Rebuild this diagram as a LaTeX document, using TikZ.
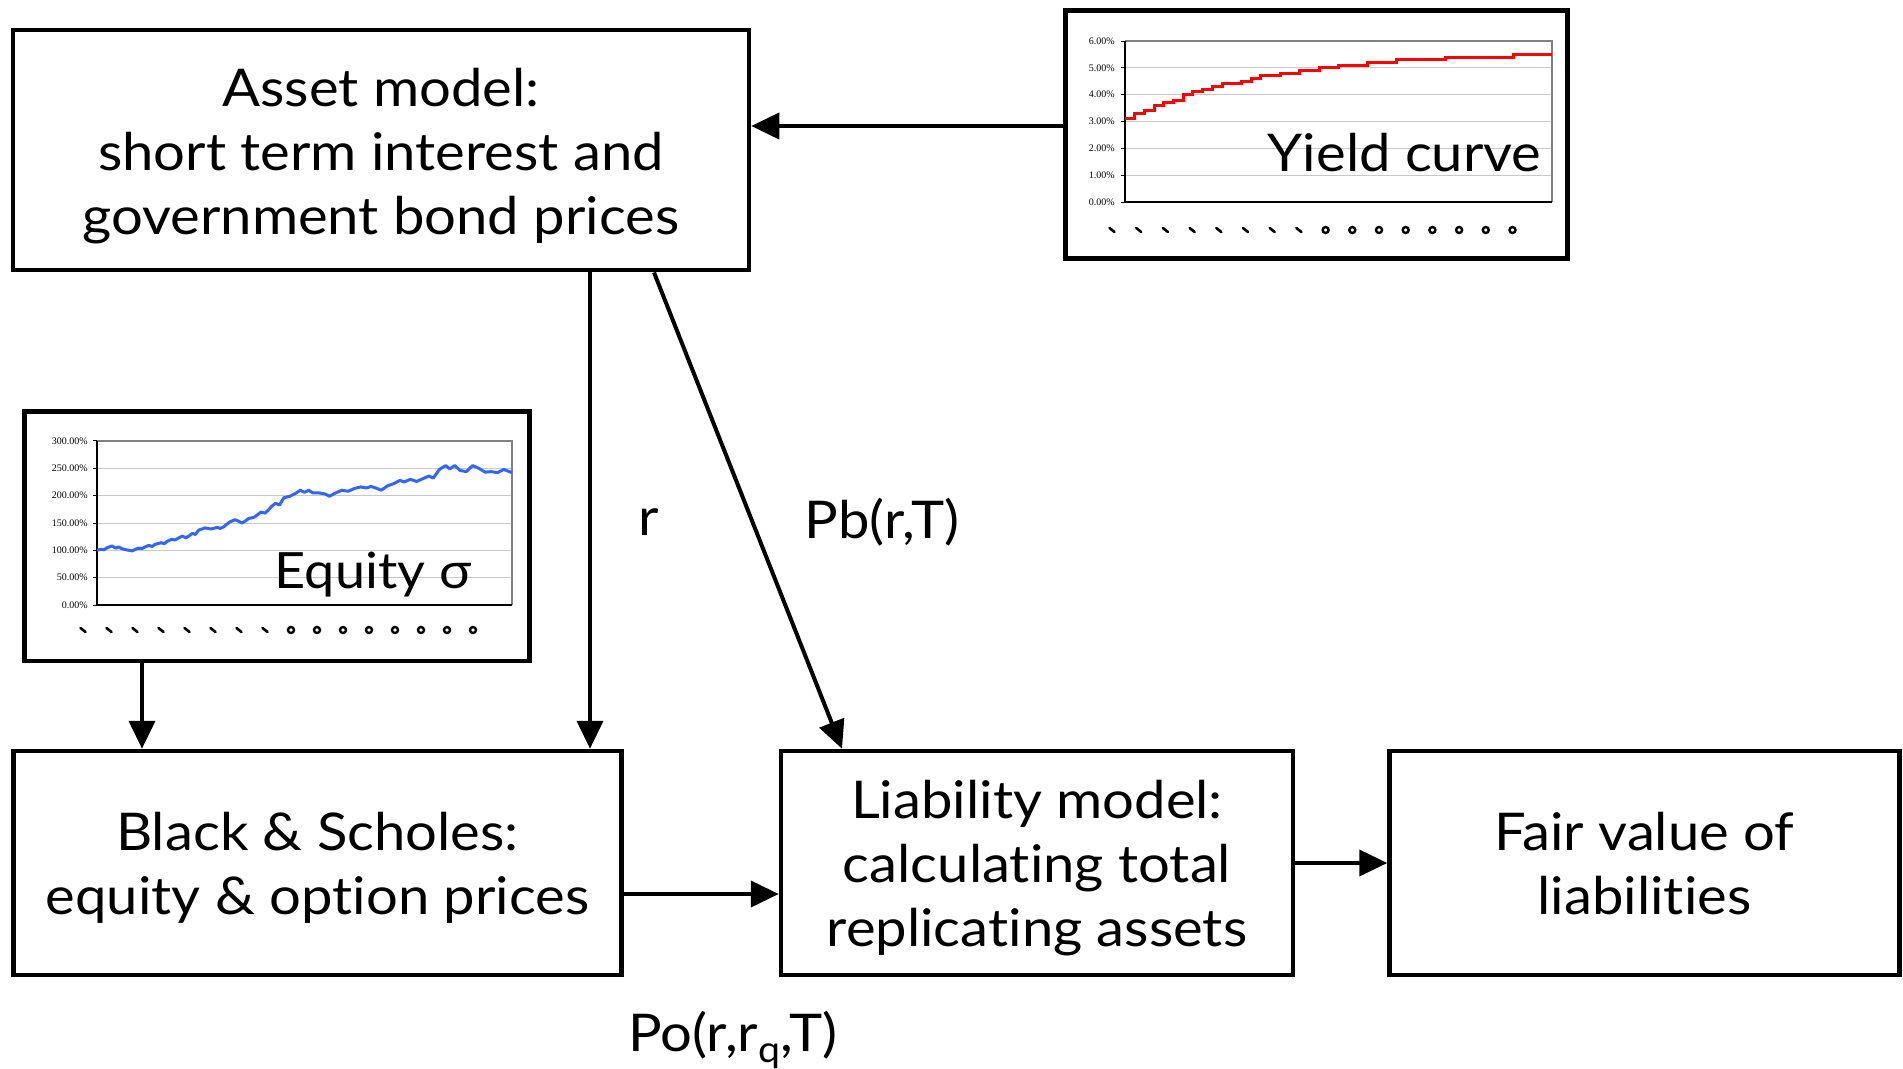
\documentclass[tikz,border=0pt]{standalone}
\usepackage{fontspec}
\setmainfont{Lato}[FakeStretch=1.08, Ligatures={NoCommon,NoContextual}]
\newfontfamily\axisfont{Liberation Serif}
\usetikzlibrary{arrows.meta}
\definecolor{eqblue}{RGB}{51,102,255}
\definecolor{gridgray}{RGB}{200,200,200}
\tikzset{
  box/.style={draw=black, line width=4.5pt, fill=white, inner sep=0pt},
  boxtext/.style={align=center, inner sep=0pt, font=\fontsize{52}{64}\selectfont},
  lbl/.style={font=\fontsize{52}{64}\selectfont, inner sep=0pt},
  arr/.style={line width=4pt, -{Triangle[length=28pt,width=26pt]}},
  axlbl/.style={font=\axisfont\fontsize{10}{12}\selectfont, anchor=east, inner sep=0pt},
  chartlbl/.style={font=\fontsize{50}{60}\selectfont, inner sep=0pt, anchor=base west},
  tickglyph/.style={black, line width=2.6pt, line cap=round},
  tickring/.style={black, line width=2.4pt}
}
\begin{document}
\begin{tikzpicture}[x=1pt, y=-1pt]
\useasboundingbox[fill=white] (0,0) rectangle (1903,1068);

% main boxes
\node[box, minimum width=736pt, minimum height=240pt,
  label={[boxtext, yshift=-6pt]center:{Asset model:\\short term interest and\\government bond prices}}]
  (asset) at (381,150.2) {};
\node[box, minimum width=608pt, minimum height=224pt,
  label={[boxtext, yshift=-5pt]center:{Black \& Scholes:\\equity \& option prices}}]
  (bs) at (317.5,863) {};
\node[box, minimum width=512pt, minimum height=224pt,
  label={[boxtext, yshift=-5pt]center:{Liability model:\\calculating total\\replicating assets}}]
  (liab) at (1037,863) {};
\node[box, minimum width=510pt, minimum height=224pt,
  label={[boxtext, yshift=-1pt]center:{Fair value of\\liabilities}}]
  (fair) at (1644.5,863) {};

% chart boxes
\node[box, minimum width=502pt, minimum height=248pt] (yield) at (1316.5,134.5) {};
\node[box, minimum width=505pt, minimum height=249.5pt] (equity) at (277,536) {};

% yield curve chart
\begin{scope}[shift={(1125pt,-202pt)}, x=427pt, y=26.83pt]
  \foreach \v in {1,...,6} \draw[gridgray, line width=1pt] (0,\v) -- (1,\v);
  \draw[gray, line width=1.2pt] (0,6) -- (1,6) -- (1,0);
  \draw[black, line width=1.2pt] (0,6) -- (0,0) -- (1,0);
  \foreach \v in {0,...,6} {
    \draw[black, line width=1pt] (0,\v) -- ++(-4pt,0);
    \node[axlbl] at ([xshift=-10pt]0,\v) {\v.00\%};
  }
  \draw[red, line width=3pt] plot[const plot, domain=0:1, samples=45]
     (\x, {round(10*(3.1+2.5*(1-exp(-3.1*\x))))/10});
  \node[chartlbl, font=\fontsize{52}{60}\selectfont] (ylbl) at (0.334,1.15) {Yield curve};
\end{scope}
\foreach \i in {0,...,15} {
  \pgfmathsetmacro\xx{1112+26.7*\i}
  \ifnum\i<8
    \draw[tickglyph] (\xx-2.5,228) -- (\xx+2.5,232);
  \else
    \draw[tickring] (\xx,230) circle (3pt);
  \fi
}

% equity chart
\begin{scope}[shift={(97pt,-605pt)}, x=415pt, y=0.5467pt]
  \foreach \v in {50,100,...,300} \draw[gridgray, line width=1pt] (0,\v) -- (1,\v);
  \draw[gray, line width=1.2pt] (0,300) -- (1,300) -- (1,0);
  \draw[black, line width=1.2pt] (0,300) -- (0,0) -- (1,0);
  \foreach \v in {0,50,...,300} {
    \draw[black, line width=1pt] (0,\v) -- ++(-4pt,0);
    \node[axlbl] at ([xshift=-9pt]0,\v) {\v.00\%};
  }
  \draw[eqblue, line width=3pt, line join=round] plot coordinates {
    (0,100) (0.008,102) (0.016,101) (0.025,105) (0.036,108) (0.045,104) (0.052,106) (0.06,103) (0.07,101)
    (0.085,99) (0.093,102) (0.1,104) (0.108,103) (0.115,106) (0.125,109) (0.133,107) (0.14,111) (0.155,114) (0.162,112) (0.17,117)
    (0.18,120) (0.188,119) (0.195,122) (0.205,126) (0.215,123) (0.23,131) (0.237,129) (0.245,137) (0.26,141)
    (0.275,139) (0.29,142) (0.297,140) (0.305,143) (0.32,152) (0.333,156) (0.35,150) (0.358,154) (0.365,158)
    (0.38,161) (0.395,170) (0.405,168) (0.412,173) (0.42,180) (0.43,186) (0.44,183) (0.45,196)
    (0.465,199) (0.48,205) (0.49,210) (0.5,206) (0.51,210) (0.52,205) (0.535,205)
    (0.55,203) (0.56,199) (0.575,205) (0.59,210) (0.605,208) (0.62,213) (0.635,216)
    (0.65,214) (0.66,217) (0.675,213) (0.685,210) (0.7,218) (0.715,222) (0.73,228)
    (0.74,225) (0.755,230) (0.77,226) (0.785,231) (0.8,236) (0.81,232) (0.825,248)
    (0.84,255) (0.85,249) (0.862,255) (0.875,246) (0.89,244) (0.905,255) (0.92,250)
    (0.935,243) (0.95,244) (0.965,242) (0.98,248) (1,242)
  };
  \node[chartlbl] (elbl) at (0.428,31) {Equity σ};
\end{scope}
\foreach \i in {0,...,15} {
  \pgfmathsetmacro\xx{83+26*\i}
  \ifnum\i<8
    \draw[tickglyph] (\xx-2.5,628) -- (\xx+2.5,632);
  \else
    \draw[tickring] (\xx,630) circle (3pt);
  \fi
}

% connectors
\coordinate (ya) at ([yshift=8.5pt]yield.west);
\draw[arr] (ya) -- (asset.east |- ya);
\coordinate (a1) at ([xshift=209pt]asset.south);
\draw[arr] (a1) -- (a1 |- bs.north);
\draw[arr] ([xshift=273pt]asset.south) -- ([xshift=-195pt]liab.north);
\coordinate (e1) at ([xshift=-135pt]equity.south);
\draw[arr] (e1) -- (e1 |- bs.north);
\coordinate (b1) at ([yshift=-31pt]bs.east);
\draw[arr] (b1) -- (b1 -| liab.west);
\draw[arr] (liab.east) -- (fair.west);

% labels
\node[lbl] (rlbl) at (649,522) {r};
\node[lbl] (pblbl) at (882,522) {Pb(r,T)};
\node[lbl] (polbl) at (733,1040) {Po(r,r\textsubscript{q},T)};
\end{tikzpicture}
\end{document}
